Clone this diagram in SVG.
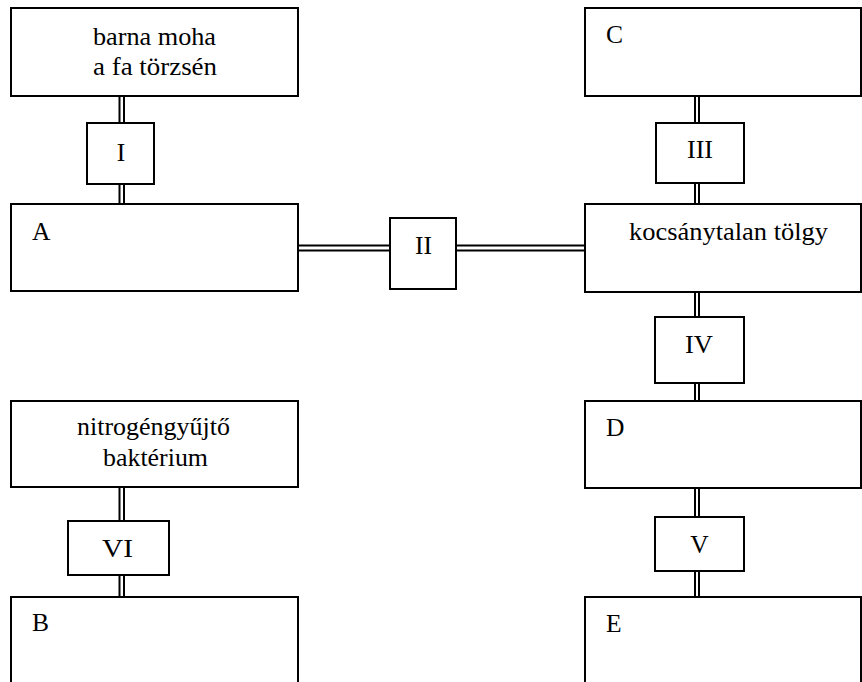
<svg xmlns="http://www.w3.org/2000/svg" width="862" height="682" viewBox="0 0 862 682">
<style>
.box{fill:#fff;stroke:#000;stroke-width:2}
.dl{stroke:#000;stroke-width:2;fill:none}
text{font-family:'Liberation Serif','DejaVu Serif',serif;font-size:25.5px;fill:#000}
.c{text-anchor:middle}
</style>
<rect width="862" height="682" fill="#fff"/>
<g id="connectors">
<path class="dl" d="M119.5 96V123M124 96V123M119.5 184V204M124 184V204"/>
<path class="dl" d="M298 245.5H390M298 250.5H390M456 245.5H585M456 250.5H585"/>
<path class="dl" d="M695 96V123M699 96V123M695 183V204M699 183V204"/>
<path class="dl" d="M695 292V317M699 292V317M695 383V401M699 383V401"/>
<path class="dl" d="M695 488V517M699 488V517M695 571V597M699 571V597"/>
<path class="dl" d="M119.5 487V521M124 487V521M119.5 575V597M124 575V597"/>
</g>
<g id="moha">
<rect class="box" x="11" y="8" width="287" height="88"/>
<text class="c" x="154.5" y="45" textLength="123" lengthAdjust="spacingAndGlyphs">barna moha</text>
<text class="c" x="155" y="75" textLength="124" lengthAdjust="spacingAndGlyphs">a fa törzsén</text>
</g>
<g id="I">
<rect class="box" x="87" y="123" width="67" height="61"/>
<text class="c" x="121" y="161">I</text>
</g>
<g id="A">
<rect class="box" x="11" y="204" width="287" height="87"/>
<text x="32" y="240">A</text>
</g>
<g id="II">
<rect class="box" x="390" y="218" width="66" height="71"/>
<text class="c" x="423.5" y="254" textLength="17" lengthAdjust="spacingAndGlyphs">II</text>
</g>
<g id="C">
<rect class="box" x="585" y="8" width="276" height="88"/>
<text x="606" y="43">C</text>
</g>
<g id="III">
<rect class="box" x="656" y="123" width="88" height="60"/>
<text class="c" x="700" y="158" textLength="26" lengthAdjust="spacingAndGlyphs">III</text>
</g>
<g id="tolgy">
<rect class="box" x="585" y="204" width="276" height="88"/>
<text class="c" x="728.5" y="240" textLength="199" lengthAdjust="spacingAndGlyphs">kocsánytalan tölgy</text>
</g>
<g id="IV">
<rect class="box" x="655" y="317" width="89" height="66"/>
<text class="c" x="699" y="353" textLength="28" lengthAdjust="spacingAndGlyphs">IV</text>
</g>
<g id="D">
<rect class="box" x="585" y="401" width="276" height="87"/>
<text x="606" y="436">D</text>
</g>
<g id="V">
<rect class="box" x="655" y="517" width="89" height="54"/>
<text class="c" x="699.5" y="553">V</text>
</g>
<g id="E">
<rect class="box" x="585" y="597" width="276" height="100"/>
<text x="606" y="632">E</text>
</g>
<g id="bakterium">
<rect class="box" x="11" y="401" width="287" height="86"/>
<text class="c" x="153.5" y="435" textLength="153" lengthAdjust="spacingAndGlyphs">nitrogéngyűjtő</text>
<text class="c" x="155.5" y="466" textLength="105" lengthAdjust="spacingAndGlyphs">baktérium</text>
</g>
<g id="VI">
<rect class="box" x="68" y="521" width="101" height="54"/>
<text class="c" x="117.5" y="557" textLength="31" lengthAdjust="spacingAndGlyphs">VI</text>
</g>
<g id="B">
<rect class="box" x="11" y="597" width="287" height="100"/>
<text x="32" y="631">B</text>
</g>
</svg>
